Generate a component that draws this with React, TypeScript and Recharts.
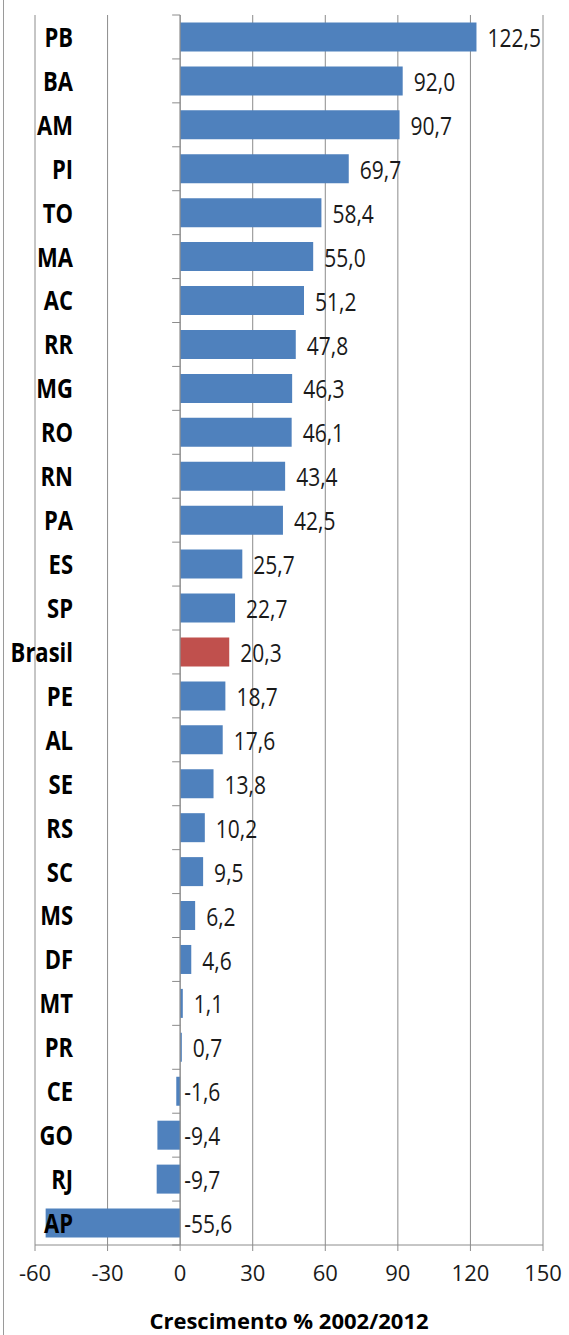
import React from "react";
import { BarChart, Bar, XAxis, YAxis, CartesianGrid, Cell, LabelList, ReferenceLine } from "recharts";

const states = [
    "PB", "BA", "AM", "PI", "TO", "MA", "AC", "RR", "MG", "RO", "RN", "PA", "ES", "SP",
    "Brasil", "PE", "AL", "SE", "RS", "SC", "MS", "DF", "MT", "PR", "CE", "GO", "RJ", "AP",
];
const growth = [
    122.5, 92.0, 90.7, 69.7, 58.4, 55.0, 51.2, 47.8, 46.3, 46.1, 43.4, 42.5, 25.7, 22.7,
    20.3, 18.7, 17.6, 13.8, 10.2, 9.5, 6.2, 4.6, 1.1, 0.7, -1.6, -9.4, -9.7, -55.6,
];
const highlight = "Brasil";
const xTicks = [-60, -30, 0, 30, 60, 90, 120, 150];
const axisTitle = "Crescimento % 2002/2012";

const W = 569;
const H = 1335;
const Y_AXIS_W = 35;
const MARGIN = { top: 15, right: 26, bottom: 0, left: 0 };
const X_AXIS_H = 90;
const PLOT_LEFT = MARGIN.left + Y_AXIS_W;
const PLOT_W = W - PLOT_LEFT - MARGIN.right;
const PLOT_H = H - MARGIN.top - MARGIN.bottom - X_AXIS_H;
const BAND = PLOT_H / states.length;
const ZERO_X = PLOT_LEFT + ((0 - xTicks[0]) / (xTicks[xTicks.length - 1] - xTicks[0])) * PLOT_W;

const BLUE = "#4F81BD";
const RED = "#C0504D";
const GRID = "#8c8c8c";
const TEXT = "#1a1a1a";
const FONT = "'Open Sans', 'Noto Sans', sans-serif";

const data = states.map((s, i) => ({ state: s, value: growth[i] }));

const fmt = (v: number) => v.toFixed(1).replace(".", ",");

// the original uses a tall narrow font, so the labels get stretched vertically
const renderCategoryTick = (props: any) => {
    const { y, payload, index } = props;
    const top = y - BAND / 2;
    return (
        <g>
            <line x1={ZERO_X - 8} x2={ZERO_X} y1={top} y2={top} stroke={GRID} />
            {index === states.length - 1 && (
                <line x1={ZERO_X - 8} x2={ZERO_X} y1={top + BAND} y2={top + BAND} stroke={GRID} />
            )}
            <text
                transform={`translate(73,${y}) scale(1,1.25)`}
                dy="0.36em"
                textAnchor="end"
                fontFamily={FONT}
                fontWeight={700}
                fontSize={22}
                fill="#000"
            >
                {payload.value}
            </text>
        </g>
    );
};

const renderValue = (props: any) => {
    const { x, y, width, height, value } = props;
    const right = Math.max(x, x + width);
    const off = value < 0 ? 4 : 11;
    return (
        <text
            transform={`translate(${right + off},${y + height / 2 + 1}) scale(1,1.2)`}
            dy="0.36em"
            fontFamily={FONT}
            fontSize={21}
            fill={TEXT}
        >
            {fmt(value)}
        </text>
    );
};

export default function App() {
    return (
        <div style={{ position: "absolute", left: 0, top: 0, width: W, height: H, background: "#fff" }}>
            {/* chart area border on the left */}
            <div style={{ position: "absolute", left: 3, top: 0, width: 1, height: H, background: "#9a9a9a" }} />
            <BarChart
                width={W}
                height={H}
                data={data}
                layout="vertical"
                margin={MARGIN}
                barCategoryGap="17%"
            >
                <CartesianGrid vertical horizontal={false} stroke={GRID} />
                <XAxis
                    type="number"
                    dataKey="value"
                    domain={[xTicks[0], xTicks[xTicks.length - 1]]}
                    ticks={xTicks}
                    interval={0}
                    height={X_AXIS_H}
                    stroke={GRID}
                    tickSize={6}
                    tickMargin={14}
                    tick={{ fontSize: 22, fill: TEXT, fontFamily: FONT }}
                    label={{
                        value: axisTitle,
                        position: "insideBottom",
                        offset: 6,
                        style: { fontSize: 22, fontWeight: 700, fill: "#000", fontFamily: FONT },
                    }}
                />
                <YAxis
                    type="category"
                    dataKey="state"
                    width={Y_AXIS_W}
                    axisLine={false}
                    tickLine={false}
                    interval={0}
                    tick={renderCategoryTick}
                />
                <ReferenceLine x={0} stroke={GRID} />
                <Bar dataKey="value" isAnimationActive={false}>
                    {data.map((d, i) => (
                        <Cell key={`cell-${i}`} fill={d.state === highlight ? RED : BLUE} />
                    ))}
                    <LabelList dataKey="value" content={renderValue} />
                </Bar>
            </BarChart>
        </div>
    );
}
